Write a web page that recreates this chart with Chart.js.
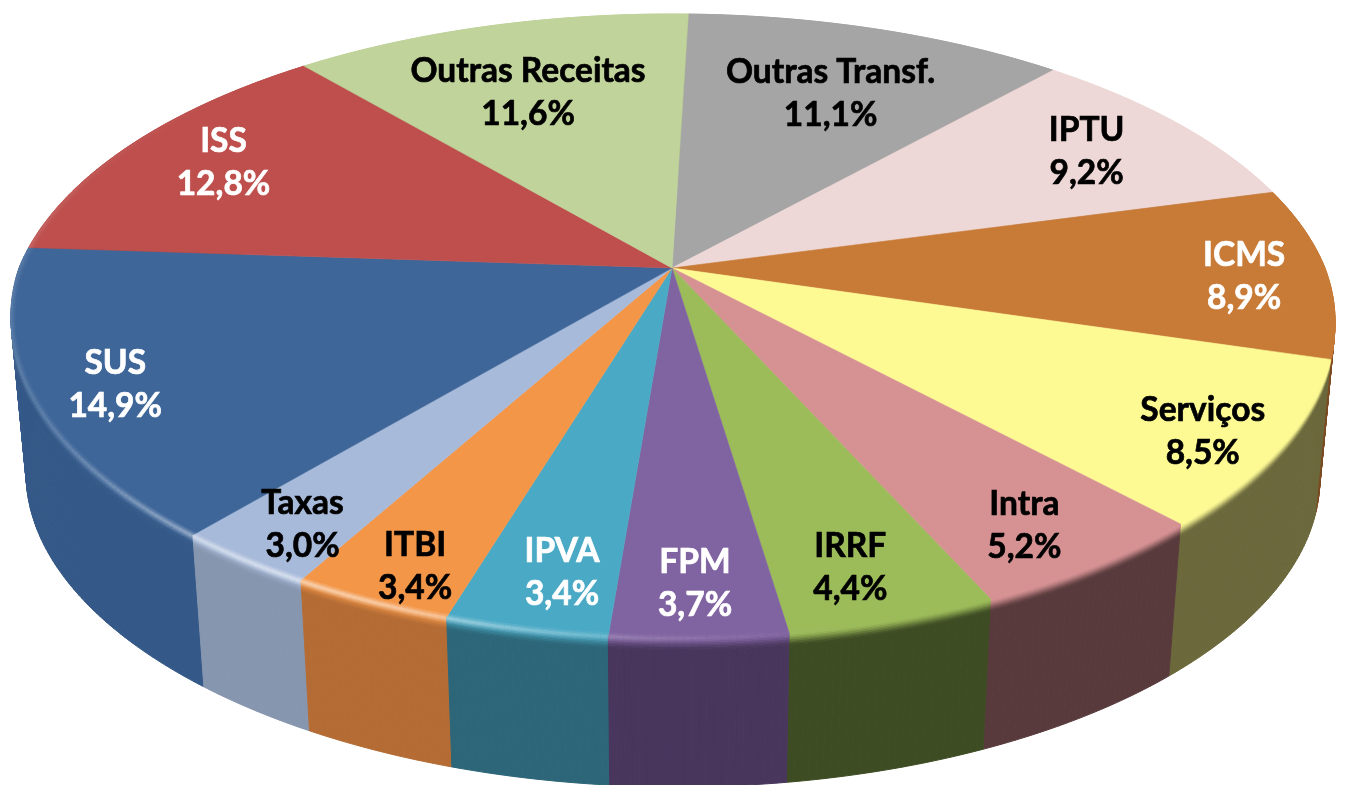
<!DOCTYPE html>
<html lang="pt">
<head>
  <meta charset="UTF-8">
  <title>Receitas</title>
  <script src="https://cdn.jsdelivr.net/npm/chart.js"></script>
  <style>
    body { margin: 0; background: #fff; }
    #pie { display: block; filter: blur(0.4px); }
  </style>
</head>
<body>
  <canvas id="pie" width="1346" height="785"></canvas>

  <script>
    const categories = ['Outras Transf.', 'IPTU', 'ICMS', 'Serviços', 'Intra', 'IRRF', 'FPM', 'IPVA', 'ITBI', 'Taxas', 'SUS', 'ISS', 'Outras Receitas'];
    const shares = [11.1, 9.2, 8.9, 8.5, 5.2, 4.4, 3.7, 3.4, 3.4, 3.0, 14.9, 12.8, 11.6];
    const topColors = ['#A5A5A5', '#EED8D7', '#C87A37', '#FDFA94', '#D69193', '#9CBB59', '#8063A1', '#4AA9C5', '#F39648', '#A7BADA', '#3E6699', '#BE4F4D', '#C0D39A'];
    const sideColors = ['#6E6E6E', '#8F8080', '#7C4A20', '#6B683C', '#583A3C', '#3E4C23', '#48365C', '#2C6678', '#B46C34', '#8796AF', '#345887', '#7A3230', '#7C8863'];
    const labelColors = ['#000', '#000', '#fff', '#000', '#000', '#000', '#fff', '#fff', '#000', '#000', '#fff', '#fff', '#000'];
    // how far out along the slice each label sits (1 = rim), then a small hand nudge in px
    const labelRadius = [0.70, 0.80, 0.87, 0.88, 0.87, 0.86, 0.87, 0.86, 0.90, 0.88, 0.875, 0.82, 0.69];
    const labelShiftX = [8, 3, 3, 0, -7, -7, 0, 12, 9, 0, -1, -2, -12];
    const labelShiftY = [0, 1, 5, 10, 5, 6, 3, 3, 5, 6, 7, -1, -1];

    // camera for the tilted disc
    const view = { x: 672, y: 268, a: 653, b: 301, k: 0.185, kNear: 0.165, shear: 6, depth: 158, shrink: 0.977 };

    // disc radius + library angle -> screen, t = 0 top face, t = 1 bottom face
    function project(r, angle, t) {
      const u = r * Math.cos(angle);
      const v = -r * Math.sin(angle);
      const d = 1 + view.k * v;
      const dx = 1 + (v < 0 ? view.kNear : view.k) * v;
      const s = 1 - (1 - view.shrink) * t;
      const lean = v < 0 ? -view.shear * v : 0;
      return {
        x: view.x + s * (view.a * u / dx + lean),
        y: view.y + view.depth * t - s * view.b * v / d
      };
    }

    function hexToRgb(hex) {
      return [1, 3, 5].map(function(i) { return parseInt(hex.substr(i, 2), 16); });
    }

    function mix(c1, c2, f) {
      const a = hexToRgb(c1);
      const b = hexToRgb(c2);
      return 'rgb(' + a.map(function(v, i) { return Math.round(v + (b[i] - v) * f); }).join(',') + ')';
    }

    function anglesOf(arc) {
      const list = [];
      const steps = Math.max(2, Math.ceil((arc.endAngle - arc.startAngle) / 0.01));
      for (let i = 0; i <= steps; i++) {
        list.push(arc.startAngle + (arc.endAngle - arc.startAngle) * i / steps);
      }
      return list;
    }

    // one quad per step, a single polygon folds over itself at the left and right edges
    function wallBand(ctx, arc, t1, t2, color) {
      const angles = anglesOf(arc);
      ctx.fillStyle = color;
      ctx.strokeStyle = color;
      ctx.lineWidth = 1;
      ctx.beginPath();
      for (let n = 0; n < angles.length - 1; n++) {
        const p1 = project(1, angles[n], t1);
        const p2 = project(1, angles[n + 1], t1);
        const p3 = project(1, angles[n + 1], t2);
        const p4 = project(1, angles[n], t2);
        ctx.moveTo(p1.x, p1.y);
        ctx.lineTo(p2.x, p2.y);
        ctx.lineTo(p3.x, p3.y);
        ctx.lineTo(p4.x, p4.y);
        ctx.closePath();
        ctx.fill();
        ctx.stroke();
        ctx.beginPath();
      }
    }

    function topFace(ctx, arc, color) {
      const c = project(0, 0, 0);
      ctx.beginPath();
      ctx.moveTo(c.x, c.y);
      anglesOf(arc).forEach(function(a) {
        const p = project(1, a, 0);
        ctx.lineTo(p.x, p.y);
      });
      ctx.closePath();
      ctx.fillStyle = color;
      ctx.strokeStyle = color;
      ctx.lineWidth = 0.6;
      ctx.fill();
      ctx.stroke();
    }

    // light catching the bevel, strongest at the lower left
    function glowAt(angle) {
      const deg = (angle * 180 / Math.PI + 90 + 360) % 360;
      return 0.85 * Math.exp(-Math.pow((deg - 208) / 22, 2)) + 0.22 * Math.exp(-Math.pow((deg - 258) / 34, 2));
    }

    const pie3d = {
      id: 'pie3d',
      beforeDatasetsDraw(chart) {
        const ctx = chart.ctx;
        const arcs = chart.getDatasetMeta(0).data;
        const order = arcs.map(function(arc, i) { return i; }).sort(function(a, b) {
          const ma = (arcs[a].startAngle + arcs[a].endAngle) / 2;
          const mb = (arcs[b].startAngle + arcs[b].endAngle) / 2;
          return Math.sin(ma) - Math.sin(mb);
        });

        ctx.save();
        order.forEach(function(i) {
          const arc = arcs[i];
          const bevel = 0.085;
          const bands = 8;
          wallBand(ctx, arc, bevel, 1, sideColors[i]);
          for (let b = bands - 1; b >= 0; b--) {
            const f = (b + 0.5) / bands;
            const eased = f * f * (3 - 2 * f);
            wallBand(ctx, arc, bevel * b / bands, bevel * (b + 1) / bands, mix(topColors[i], sideColors[i], eased));
          }
        });
        arcs.forEach(function(arc, i) { topFace(ctx, arc, topColors[i]); });

        // rim highlight, soft edge from wide pale strokes under a narrow one
        ctx.lineCap = 'butt';
        [[9, 0.16], [6, 0.2], [3, 0.3]].forEach(function(stroke) {
          arcs.forEach(function(arc) {
            const angles = anglesOf(arc);
            for (let n = 0; n < angles.length - 1; n++) {
              const g = glowAt(angles[n]);
              if (g < 0.02) continue;
              const p1 = project(1, angles[n], 0.008);
              const p2 = project(1, angles[n + 1], 0.008);
              ctx.beginPath();
              ctx.moveTo(p1.x, p1.y);
              ctx.lineTo(p2.x, p2.y);
              ctx.strokeStyle = 'rgba(255,255,255,' + (g * stroke[1]).toFixed(3) + ')';
              ctx.lineWidth = stroke[0];
              ctx.stroke();
            }
          });
        });
        ctx.restore();
        return false;
      },
      // afterDatasetsDraw is skipped once beforeDatasetsDraw cancels, so labels go here
      afterDraw(chart) {
        const ctx = chart.ctx;
        ctx.save();
        ctx.font = 'bold 33.5px Lato, "Open Sans", sans-serif';
        ctx.textAlign = 'center';
        ctx.textBaseline = 'middle';
        ctx.lineWidth = 0.7;
        chart.getDatasetMeta(0).data.forEach(function(arc, i) {
          const p = project(labelRadius[i], (arc.startAngle + arc.endAngle) / 2, 0);
          const x = p.x + labelShiftX[i];
          const y = p.y + labelShiftY[i];
          const pct = shares[i].toFixed(1).replace('.', ',') + '%';
          ctx.fillStyle = labelColors[i];
          ctx.strokeStyle = labelColors[i];
          ctx.fillText(categories[i], x, y - 21);
          ctx.strokeText(categories[i], x, y - 21);
          ctx.fillText(pct, x, y + 22);
          ctx.strokeText(pct, x, y + 22);
        });
        ctx.restore();
      }
    };

    new Chart(document.getElementById('pie'), {
      type: 'pie',
      data: {
        labels: categories,
        datasets: [{ data: shares, backgroundColor: topColors, borderWidth: 0 }]
      },
      options: {
        responsive: false,
        animation: false,
        rotation: 1.7,
        plugins: { legend: { display: false }, tooltip: { enabled: false } }
      },
      plugins: [pie3d]
    });
  </script>
</body>
</html>
